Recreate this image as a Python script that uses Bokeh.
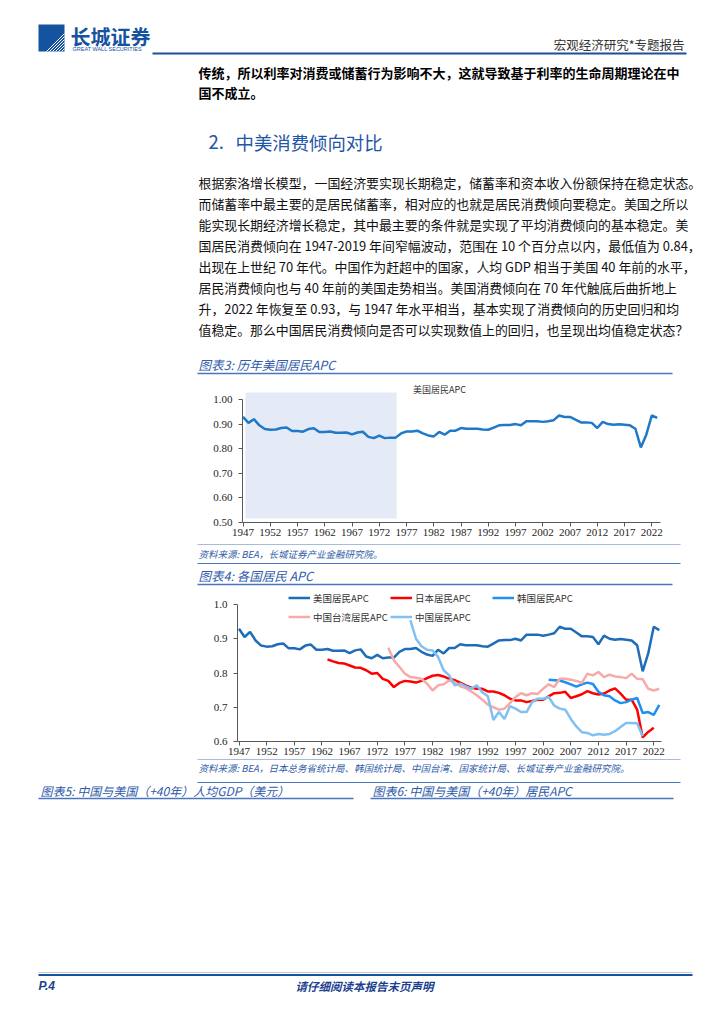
from bokeh.plotting import figure
from bokeh.layouts import column
from bokeh.models import (Range1d, FixedTicker, BoxAnnotation, Legend, LegendItem,
                          NumeralTickFormatter, LinearAxis)
from bokeh.core.properties import value
from bokeh.embed import file_html
from bokeh.resources import INLINE

# ---------------- data ----------------
us_years = list(range(1947, 2024))
us_apc = [0.929, 0.905, 0.920, 0.895, 0.880, 0.877, 0.878, 0.884, 0.886, 0.872,
          0.872, 0.869, 0.880, 0.883, 0.868, 0.868, 0.870, 0.865, 0.865, 0.866,
          0.858, 0.866, 0.869, 0.848, 0.843, 0.853, 0.843, 0.845, 0.845, 0.862,
          0.870, 0.870, 0.873, 0.862, 0.854, 0.850, 0.868, 0.857, 0.873, 0.873,
          0.884, 0.881, 0.881, 0.881, 0.878, 0.877, 0.886, 0.895, 0.896, 0.896,
          0.900, 0.895, 0.912, 0.912, 0.912, 0.909, 0.912, 0.916, 0.935, 0.929,
          0.929, 0.918, 0.907, 0.907, 0.905, 0.884, 0.909, 0.900, 0.897, 0.899,
          0.897, 0.895, 0.881, 0.805, 0.857, 0.935, 0.925]

japan_years = list(range(1963, 2023))
japan_apc = [0.840, 0.834, 0.829, 0.828, 0.822, 0.816, 0.815, 0.808, 0.798, 0.800,
             0.783, 0.777, 0.759, 0.771, 0.777, 0.775, 0.772, 0.777, 0.785, 0.792,
             0.794, 0.790, 0.783, 0.779, 0.772, 0.764, 0.757, 0.754, 0.754, 0.746,
             0.746, 0.742, 0.735, 0.725, 0.720, 0.720, 0.715, 0.718, 0.722, 0.722,
             0.732, 0.741, 0.742, 0.745, 0.727, 0.732, 0.738, 0.747, 0.741, 0.737,
             0.740, 0.749, 0.755, 0.740, 0.722, 0.722, 0.693, 0.612, 0.628, 0.640]

korea_years = list(range(2003, 2024))
korea_apc = [0.780, 0.779, 0.778, 0.773, 0.767, 0.760, 0.767, 0.772, 0.768, 0.745,
             0.735, 0.732, 0.720, 0.712, 0.715, 0.722, 0.727, 0.683, 0.686, 0.678,
             0.707]

taiwan_years = list(range(1974, 2024))
taiwan_apc = [0.874, 0.837, 0.818, 0.798, 0.788, 0.786, 0.783, 0.769, 0.749, 0.764,
              0.767, 0.778, 0.773, 0.761, 0.756, 0.746, 0.735, 0.722, 0.708, 0.700,
              0.693, 0.696, 0.712, 0.730, 0.741, 0.735, 0.741, 0.739, 0.754, 0.767,
              0.759, 0.783, 0.783, 0.780, 0.777, 0.771, 0.798, 0.793, 0.803, 0.788,
              0.795, 0.790, 0.788, 0.785, 0.798, 0.783, 0.782, 0.754, 0.749, 0.754]

china_years = list(range(1978, 2021))
china_apc = [0.954, 0.900, 0.878, 0.868, 0.866, 0.847, 0.808, 0.793, 0.764, 0.769,
             0.761, 0.754, 0.764, 0.744, 0.732, 0.663, 0.686, 0.666, 0.703, 0.696,
             0.686, 0.686, 0.715, 0.725, 0.725, 0.730, 0.705, 0.696, 0.693, 0.666,
             0.644, 0.627, 0.625, 0.618, 0.622, 0.620, 0.622, 0.630, 0.642, 0.654,
             0.654, 0.653, 0.615]

x_ticks = list(range(1947, 2023, 5))
y3_ticks = [0.5, 0.6, 0.7, 0.8, 0.9, 1.0]
y4_ticks = [0.6, 0.7, 0.8, 0.9, 1.0]
shade_start, shade_end = 1947.45, 1975.2

# ---------------- styles ----------------
CJK = "Noto Sans CJK SC"
SERIF = "Liberation Serif"
BLUE_DARK = "#1b4f9c"
CAP_BLUE = "#2f5ba8"
LINE_BLUE = "#4a76c0"
LIGHT_LINE = "#a9bbdc"
X0, X1 = 0, 716          # page x covered by every figure
PAGE_W = X1 - X0


def text_fig(y0, y1):
    p = figure(width=PAGE_W, height=y1 - y0, x_range=Range1d(X0, X1),
               y_range=Range1d(y1, y0), output_backend="svg", toolbar_location=None,
               x_axis_location=None, y_axis_location=None, min_border=0)
    p.grid.visible = False
    p.outline_line_color = None
    return p


def put_text(p, x, y, s, size, color="#000000", style="normal", align="left", font=CJK):
    p.text(x=[x], y=[y], text=[s], text_font=value(font),
           text_font_size=value(f"{size}px"), text_color=color,
           text_font_style=value(style), text_align=value(align),
           text_baseline=value("middle"))


def hline(p, x0, x1, y, color, width=1.0):
    p.segment(x0=[x0], y0=[y], x1=[x1], y1=[y], line_color=color, line_width=width)


class Geo:
    """page-pixel <-> data mapping for a chart placed inside a full-width figure"""
    def __init__(self, fig_top, fig_bottom, px_1947, px_per_year, base_val, px_base, px_per_unit):
        self.top, self.bottom = fig_top, fig_bottom
        self.px0, self.ppy = px_1947, px_per_year
        self.bv, self.pb, self.ppu = base_val, px_base, px_per_unit

    def xr(self):
        return Range1d(1947 + (X0 - self.px0) / self.ppy, 1947 + (X1 - self.px0) / self.ppy)

    def yr(self):
        return Range1d(self.bv - (self.bottom - self.pb) / self.ppu,
                       self.bv + (self.pb - self.top) / self.ppu)

    def year(self, px):
        return 1947 + (px - self.px0) / self.ppy

    def val(self, py):
        return self.bv + (self.pb - py) / self.ppu


def chart_fig(g, fmt, yticks, ybounds, xbounds_px):
    p = figure(width=PAGE_W, height=g.bottom - g.top, x_range=g.xr(), y_range=g.yr(),
               output_backend="svg", toolbar_location=None, min_border=0,
               x_axis_location=None, y_axis_location=None)
    p.grid.visible = False
    p.outline_line_color = None
    xa = LinearAxis(fixed_location=ybounds[0], ticker=FixedTicker(ticks=x_ticks),
                    bounds=(g.year(xbounds_px[0]), g.year(xbounds_px[1])))
    ya = LinearAxis(fixed_location=g.year(xbounds_px[0]), ticker=FixedTicker(ticks=yticks),
                    bounds=ybounds, formatter=NumeralTickFormatter(format=fmt))
    for ax in (xa, ya):
        ax.axis_line_color = "#595959"
        ax.major_tick_line_color = "#595959"
        ax.minor_tick_line_color = None
        ax.major_tick_in = 0
        ax.major_tick_out = 4
        ax.major_label_text_font = SERIF
        ax.major_label_text_font_size = "11px"
        ax.major_label_text_color = "#262626"
    xa.major_label_standoff = 2
    ya.major_label_standoff = 6
    p.add_layout(xa, "below")
    p.add_layout(ya, "left")
    return p


TOP = 0   # page y of the top of the first figure

# ---------------- A: header + text ----------------
A = text_fig(TOP, 380)
A.quad(left=[38], right=[64], top=[24], bottom=[51], fill_color="#1552a0", line_color=None)
A.multi_line(xs=[[46 + 3 * i, 64] for i in range(6)],
             ys=[[51, 33 + 3 * i] for i in range(6)], line_color="white", line_width=1)
put_text(A, 70, 36, "长城证券", 20, "#1552a0", "bold")
put_text(A, 72, 48, "GREAT WALL SECURITIES", 5.5, "#1552a0", font="Liberation Sans")
put_text(A, 684, 44, "宏观经济研究*专题报告", 12.5, "#333333", align="right")
hline(A, 152, 686, 53, BLUE_DARK, 2.2)
put_text(A, 198, 72, "传统，所以利率对消费或储蓄行为影响不大，这就导致基于利率的生命周期理论在中", 13, "#000000", "bold")
put_text(A, 198, 92, "国不成立。", 13, "#000000", "bold")
put_text(A, 208, 141, "2.", 18.5, "#1f56a5")
put_text(A, 235, 141, "中美消费倾向对比", 18.4, "#1f56a5")
para = [
    "根据索洛增长模型，一国经济要实现长期稳定，储蓄率和资本收入份额保持在稳定状态。",
    "而储蓄率中最主要的是居民储蓄率，相对应的也就是居民消费倾向要稳定。美国之所以",
    "能实现长期经济增长稳定，其中最主要的条件就是实现了平均消费倾向的基本稳定。美",
    "国居民消费倾向在 1947-2019 年间窄幅波动，范围在 10 个百分点以内，最低值为 0.84，",
    "出现在上世纪 70 年代。中国作为赶超中的国家，人均 GDP 相当于美国 40 年前的水平，",
    "居民消费倾向也与 40 年前的美国走势相当。美国消费倾向在 70 年代触底后曲折地上",
    "升，2022 年恢复至 0.93，与 1947 年水平相当，基本实现了消费倾向的历史回归和均",
    "值稳定。那么中国居民消费倾向是否可以实现数值上的回归，也呈现出均值稳定状态？",
]
for i, s in enumerate(para):
    put_text(A, 198, 182 + 21 * i, s, 12.9, "#111111")
put_text(A, 198, 364, "图表3: 历年美国居民APC", 12.5, CAP_BLUE, "italic")
hline(A, 197, 672, 373, LINE_BLUE, 1.5)

# ---------------- B: chart 3 ----------------
g3 = Geo(380, 542, 242.5, 5.45, 0.5, 522, 246.0)
B = chart_fig(g3, "0.00", y3_ticks, (0.5, 1.0), (242, 660))
B.add_layout(BoxAnnotation(left=shade_start, right=shade_end, bottom=g3.val(518),
                           top=g3.val(392), fill_color="#e4eaf6", fill_alpha=1.0,
                           line_color=None, level="underlay"))
B.line(us_years, us_apc, line_color="#1f78c8", line_width=2.5)
B.text(x=[g3.year(439)], y=[g3.val(389)], text=["美国居民APC"], text_font=value(CJK),
       text_font_size=value("9px"), text_color="#333333", text_align=value("center"),
       text_baseline=value("middle"))

# ---------------- C: between charts ----------------
C = text_fig(542, 588)
hline(C, 197, 680, 544, LIGHT_LINE, 1.2)
put_text(C, 198, 553, "资料来源: BEA，长城证券产业金融研究院。", 9.5, CAP_BLUE, "italic")
hline(C, 197, 680, 563, LINE_BLUE, 1.2)
put_text(C, 198, 575, "图表4: 各国居民 APC", 12.5, CAP_BLUE, "italic")
hline(C, 197, 672, 584, LINE_BLUE, 1.5)

# ---------------- D: chart 4 ----------------
g4 = Geo(588, 757, 238.5, 5.53, 0.6, 741, 342.5)
D = chart_fig(g4, "0.0", y4_ticks, (0.6, 1.0), (237, 661))
r_us = D.line(us_years, us_apc, line_color="#1f6db8", line_width=2.5)
r_jp = D.line(japan_years, japan_apc, line_color="#ff0000", line_width=2.5)
r_kr = D.line(korea_years, korea_apc, line_color="#1e90f0", line_width=2.5)
r_tw = D.line(taiwan_years, taiwan_apc, line_color="#f7aaaa", line_width=2.5)
r_cn = D.line(china_years, china_apc, line_color="#80c0f2", line_width=2.5)
legend = Legend(items=[LegendItem(label="美国居民APC", renderers=[r_us]),
                       LegendItem(label="日本居民APC", renderers=[r_jp]),
                       LegendItem(label="韩国居民APC", renderers=[r_kr]),
                       LegendItem(label="中国台湾居民APC", renderers=[r_tw]),
                       LegendItem(label="中国居民APC", renderers=[r_cn])],
                location=(288 - X0, 757 - 625), orientation="horizontal", ncols=3,
                padding=0, margin=0, spacing=2, label_standoff=3, label_width=75,
                glyph_width=22, glyph_height=17, label_height=17,
                label_text_font=CJK, label_text_font_size="9.5px",
                label_text_color="#333333", background_fill_alpha=0,
                border_line_color=None)
D.add_layout(legend)

# ---------------- E: bottom ----------------
E = text_fig(757, 1016)
hline(E, 197, 680, 759, LIGHT_LINE, 1.2)
put_text(E, 198, 767, "资料来源: BEA，日本总务省统计局、韩国统计局、中国台湾、国家统计局、长城证券产业金融研究院。",
         9.5, CAP_BLUE, "italic")
hline(E, 197, 680, 782, LINE_BLUE, 1.2)
put_text(E, 40, 790, "图表5: 中国与美国（+40年）人均GDP（美元）", 12, CAP_BLUE, "italic")
put_text(E, 372, 790, "图表6: 中国与美国（+40年）居民APC", 12, CAP_BLUE, "italic")
hline(E, 38, 353, 798, LINE_BLUE, 1.5)
hline(E, 370, 673, 798, LINE_BLUE, 1.5)
hline(E, 38, 692, 972, "#c8c8c8", 1.0)
hline(E, 38, 692, 974.5, "#1552a0", 2.2)
put_text(E, 38, 985, "P.4", 12, "#1b3f8f", "bold italic", font="Liberation Sans")
put_text(E, 295, 985, "请仔细阅读本报告末页声明", 11.5, "#1b3f8f", "bold italic")

page = column(A, B, C, D, E, spacing=0)
open("out.html", "w").write(file_html(page, INLINE))
